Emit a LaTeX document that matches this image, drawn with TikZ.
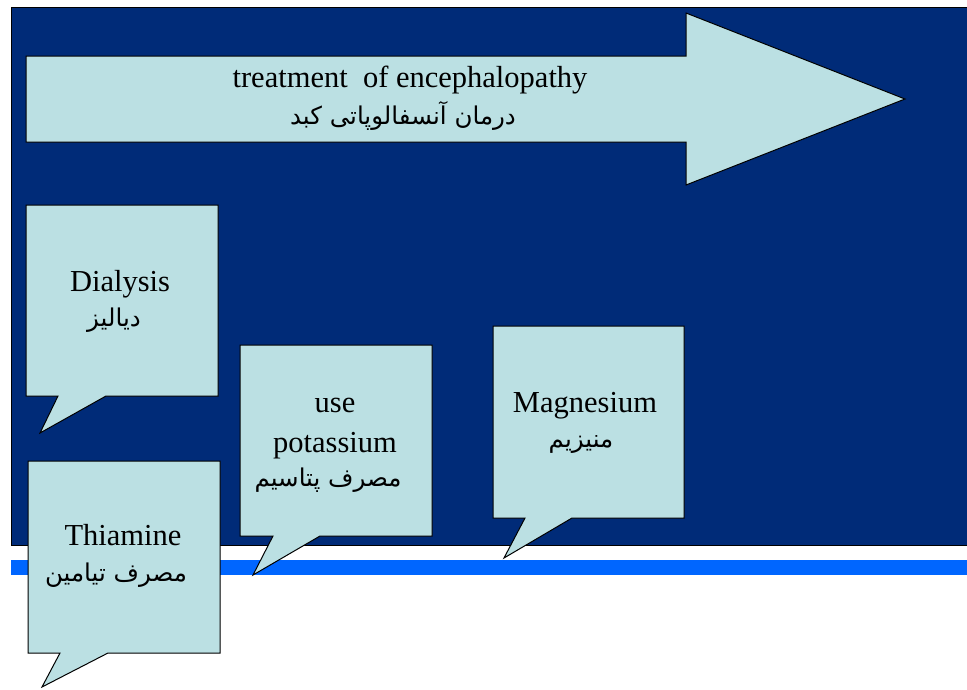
\documentclass[tikz,border=0pt]{standalone}
\usepackage{fontspec}
\setmainfont{Liberation Serif}
\newfontfamily\fafont[Script=Arabic]{DejaVu Sans}
\TeXXeTstate=1
\definecolor{bgblue}{RGB}{0,43,120}
\definecolor{boxfill}{RGB}{187,224,227}
\definecolor{lineblue}{RGB}{0,102,255}
\begin{document}
\begin{tikzpicture}[x=1pt,y=-1pt,
  shp/.style={fill=boxfill,draw=black,line width=1pt,line join=miter},
  en/.style={font=\fontsize{30.5}{34}\selectfont,text=black,inner sep=0,anchor=base},
  fa/.style={font=\fafont\fontsize{24.5}{28}\selectfont,text=black,inner sep=0,anchor=base}]
\useasboundingbox (0,0) rectangle (967,689);
\fill[white] (0,0) rectangle (967,689);
\draw[fill=bgblue,draw=black,line width=1pt] (11,7) rectangle (967,545);
\fill[lineblue] (11,560) rectangle (967,575);
% arrow
\draw[shp] (26,56) -- (686,56) -- (686,13) -- (905,99) -- (686,185) -- (686,142) -- (26,142) -- cycle;
\node[en] (t1) at (410,87) {treatment\ \ of encephalopathy};
\node[fa] (t2) at (403,124) {\beginR درمان آنسفالوپاتی کبد\endR};
% Dialysis
\draw[shp] (26,205) -- (218,205) -- (218,396) -- (106,396) -- (40,433) -- (58,396) -- (26,396) -- cycle;
\node[en] (d1) at (120,291) {Dialysis};
\node[fa] (d2) at (114,326) {\beginR دیالیز\endR};
% Potassium
\draw[shp] (240,345) -- (432,345) -- (432,536) -- (320,536) -- (253,575) -- (273,536) -- (240,536) -- cycle;
\node[en] (p1) at (335,412) {use};
\node[en] (p2) at (335,452) {potassium};
\node[fa] (p3) at (328,486) {\beginR مصرف پتاسیم\endR};
% Magnesium
\draw[shp] (493,326) -- (684,326) -- (684,518) -- (572,518) -- (504,558) -- (525,518) -- (493,518) -- cycle;
\node[en] (m1) at (585,412) {Magnesium};
\node[fa] (m2) at (581,447) {\beginR منیزیم\endR};
% Thiamine
\draw[shp] (28,461) -- (220,461) -- (220,653) -- (108,653) -- (42,687) -- (60,653) -- (28,653) -- cycle;
\node[en] (h1) at (123,545) {Thiamine};
\node[fa] (h2) at (116,581) {\beginR مصرف تیامین\endR};
\end{tikzpicture}
\end{document}
